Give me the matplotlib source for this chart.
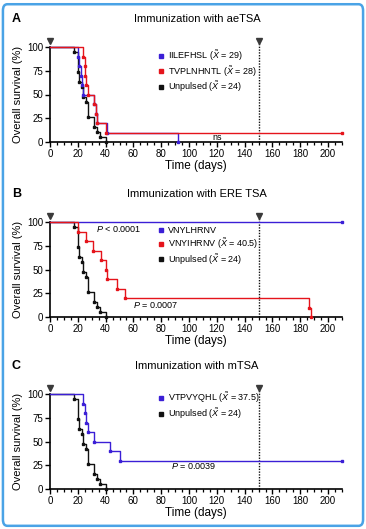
"""Kaplan-Meier survival curves for three immunization regimens (panels A-C)."""

import matplotlib
matplotlib.use("Agg")
import matplotlib.pyplot as plt
from matplotlib.lines import Line2D
from matplotlib.patches import FancyBboxPatch
from matplotlib.ticker import MultipleLocator

plt.rcParams["font.family"] = ["Liberation Sans", "DejaVu Sans"]
plt.rcParams["mathtext.fontset"] = "custom"
plt.rcParams["mathtext.it"] = "Liberation Sans:italic"
plt.rcParams["mathtext.rm"] = "Liberation Sans"

BLUE = "#3b1fd6"
RED = "#e5141b"
BLACK = "#111111"

# vaccination / challenge days marked with triangles
vaccination_days = [0, 150]
x_end = 210

# unpulsed control (same cohort in every panel), survival in % after each event
unpulsed_t = [17, 20, 21, 23, 24, 26, 27, 32, 34, 36, 40]
unpulsed_s = [94.7, 73.7, 63.2, 57.9, 47.4, 42.1, 26.3, 15.8, 10.5, 5.3, 0]

# panel A: aeTSA
iilefhsl_t = [20, 21, 22, 23, 24, 32, 33, 33.5, 41, 92]
iilefhsl_s = [90, 80, 70, 60, 50, 40, 30, 20, 10, 0]
tvplnhntl_t = [24, 25, 25.5, 26, 27, 32, 33, 34, 40]
tvplnhntl_s = [90, 80, 70, 60, 50, 40, 30, 20, 10]

# panel B: ERE TSA
vnylhrnv_t = []
vnylhrnv_s = []
vnyihrnv_t = [20, 26, 31, 37, 40, 41, 48, 54, 186, 188]
vnyihrnv_s = [90, 80, 70, 60, 50, 40, 30, 20, 10, 0]

# panel C: mTSA
vtpvyqhl_t = [24, 25, 26, 27, 32, 43, 50]
vtpvyqhl_s = [90, 80, 70, 60, 50, 40, 30]

panels = [
    dict(letter="A", title="Immunization with aeTSA", bottom=1 - 142 / 529,
         groups=[("Unpulsed ($\\tilde{X}$ = 24)", unpulsed_t, unpulsed_s, BLACK),
                 ("IILEFHSL ($\\tilde{X}$ = 29)", iilefhsl_t, iilefhsl_s, BLUE),
                 ("TVPLNHNTL ($\\tilde{X}$ = 28)", tvplnhntl_t, tvplnhntl_s, RED)],
         legend_order=[1, 2, 0], legend_y=0.99,
         notes=[("ns", 117, 5)]),
    dict(letter="B", title="Immunization with ERE TSA", bottom=1 - 317 / 529,
         groups=[("Unpulsed ($\\tilde{X}$ = 24)", unpulsed_t, unpulsed_s, BLACK),
                 ("VNYLHRNV", vnylhrnv_t, vnylhrnv_s, BLUE),
                 ("VNYIHRNV ($\\tilde{X}$ = 40.5)", vnyihrnv_t, vnyihrnv_s, RED)],
         legend_order=[1, 2, 0], legend_y=0.96,
         notes=[("$P$ < 0.0001", 33, 93), ("$P$ = 0.0007", 60, 13)]),
    dict(letter="C", title="Immunization with mTSA", bottom=1 - 489 / 529,
         groups=[("Unpulsed ($\\tilde{X}$ = 24)", unpulsed_t, unpulsed_s, BLACK),
                 ("VTPVYQHL ($\\tilde{X}$ = 37.5)", vtpvyqhl_t, vtpvyqhl_s, BLUE)],
         legend_order=[1, 0], legend_y=1.04,
         notes=[("$P$ = 0.0039", 87, 24)]),
]

fig = plt.figure(figsize=(3.66, 5.29), dpi=100)
fig.patches.append(FancyBboxPatch((0.008, 0.006), 0.984, 0.986,
                                  boxstyle="round,pad=0,rounding_size=0.012",
                                  transform=fig.transFigure, fill=False,
                                  ec="#4aa3e6", lw=1.8))

ax_left = 50 / 366
ax_width = 292 / 366
ax_height = 95 / 529

for p in panels:
    ax = fig.add_axes([ax_left, p["bottom"], ax_width, ax_height])
    handles = []
    for label, t, s, color in p["groups"]:
        xs = [0] + list(t)
        ys = [100] + list(s)
        if ys[-1] > 0:
            xs.append(x_end)
            ys.append(ys[-1])
        ax.step(xs, ys, where="post", color=color, lw=1.0, clip_on=False, zorder=3)
        ax.plot(xs[1:], ys[1:], ls="none", marker="s", ms=1.6, color=color,
                clip_on=False, zorder=4)
        handles.append(Line2D([], [], ls="none", marker="s", ms=3.2, color=color, label=label))

    # vaccination markers and dotted challenge line
    ax.plot(vaccination_days, [106] * len(vaccination_days), ls="none", marker="v",
            ms=4.5, color="#3a3a3a", clip_on=False, zorder=5)
    ax.plot([vaccination_days[-1]] * 2, [0, 104], ls=(0, (1, 1)), lw=1.0,
            color=BLACK, clip_on=False, zorder=2)

    for txt, x, y in p["notes"]:
        ax.text(x, y, txt, fontsize=6.5, ha="left", va="center", zorder=6)

    ax.legend(handles=[handles[i] for i in p["legend_order"]],
              loc="upper left", bbox_to_anchor=(0.37, p["legend_y"]), frameon=False,
              fontsize=6.5, handlelength=0.6, handletextpad=0.5,
              labelspacing=0.12, borderaxespad=0, borderpad=0)

    ax.set_xlim(0, x_end)
    ax.set_ylim(0, 100)
    ax.set_xticks(range(0, 201, 20))
    ax.xaxis.set_minor_locator(MultipleLocator(5))
    ax.set_yticks([0, 25, 50, 75, 100])
    ax.tick_params(axis="both", which="major", direction="out", length=3.5,
                   width=1, labelsize=7, pad=1.5)
    ax.tick_params(axis="x", which="minor", direction="out", length=2.5, width=0.9)
    for side in ("top", "right"):
        ax.spines[side].set_visible(False)
    for side in ("left", "bottom"):
        ax.spines[side].set_linewidth(1.2)
    ax.set_xlabel("Time (days)", fontsize=8.5, labelpad=1)
    ax.set_ylabel("Overall survival (%)", fontsize=8, labelpad=3)

    top_px = (1 - p["bottom"] - ax_height) * 529
    fig.text(12 / 366, 1 - (top_px - 28) / 529, p["letter"], fontsize=9,
             fontweight="bold", ha="left", va="center")
    fig.text(197 / 366, 1 - (top_px - 28) / 529, p["title"], fontsize=8,
             ha="center", va="center")

fig.savefig("out.png", dpi=100)
